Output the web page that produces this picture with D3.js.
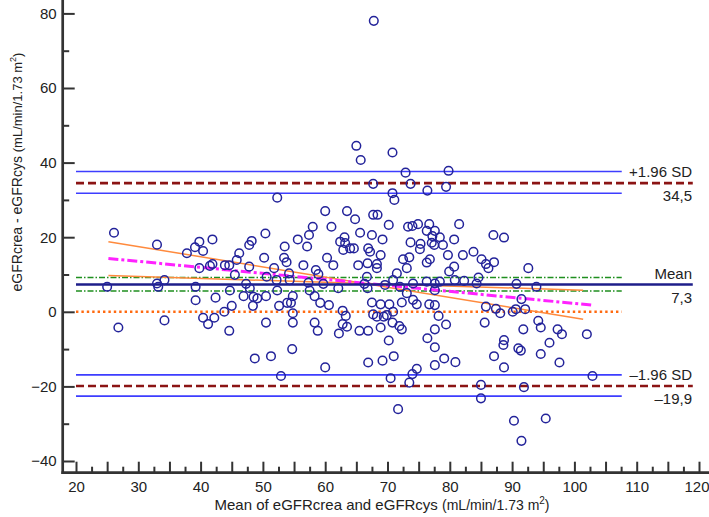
<!DOCTYPE html>
<html><head><meta charset="utf-8">
<script src="https://cdn.jsdelivr.net/npm/d3@7"></script>
<style>
body{margin:0;background:#fff}
svg{display:block;font-family:"Liberation Sans",Arial,sans-serif}
</style>
</head><body>
<svg id="chart" width="709" height="517"></svg>
<script>
// Mean of the two methods (x) and difference (y) for each subject
const meanValues = [
26.1,33.0,37.8,39.1,39.8,40.4,41.9,39.8,41.5,41.9,34.2,25.0,33.0,33.2,39.2,39.2,42.4,26.8,34.2,40.4,41.2,42.2,
65.0,65.7,52.3,60.0,63.5,64.8,61.0,58.0,57.4,50.4,48.2,47.8,55.6,57.1,53.5,62.4,63.1,63.2,62.9,64.0,64.6,46.2,45.8,50.2,53.4,53.8,60.3,61.3,56.5,43.9,44.6,47.8,51.8,65.3,54.2,58.5,58.9,45.5,50.6,66.7,
47.3,47.9,52.2,54.3,57.3,59.7,62.1,66.3,66.8,44.7,52.3,54.8,57.5,58.3,46.9,48.5,49.1,50.5,48.4,45.0,52.6,53.9,54.5,59.2,60.6,43.8,54.8,54.8,50.5,58.3,58.8,44.6,62.8,63.3,62.8,63.5,62.2,65.5,66.9,54.7,48.7,51.3,60.0,66.9,52.9,
70.8,72.9,79.8,67.7,73.7,79.4,76.4,70.8,71.1,67.7,68.4,70.2,73.3,74.0,74.9,76.7,81.5,76.3,77.6,77.2,78.4,80.7,87.0,88.7,65.6,67.5,69.2,73.7,75.3,77.1,77.5,78.9,75.2,66.9,67.2,68.9,79.7,82.1,83.8,85.1,85.8,87.1,86.2,72.5,73.5,76.8,76.3,66.8,68.3,68.3,73.1,80.7,79.9,71.5,92.6,
84.6,69.6,72.0,74.1,77.6,78.4,80.8,82.3,84.3,90.7,70.9,67.5,68.9,70.3,72.3,74.1,74.7,76.7,85.8,87.4,88.1,90.1,90.6,92.1,67.7,68.3,69.4,69.9,70.9,78.2,70.8,71.9,72.3,68.9,79.4,77.6,85.6,91.8,70.2,76.4,77.6,88.7,88.6,91.0,91.4,87.1,69.2,71.0,79.1,80.9,77.6,88.7,74.7,74.0,70.5,73.5,85.0,91.9,85.0,71.7,90.3,91.5,73.1,76.3,77.6,77.6,
93.9,91.5,94.2,94.6,97.3,98.0,102.0,96.0,94.6,97.6,102.9,95.4,67.8
];
const diffValues = [
21.2,18.0,15.7,17.3,18.8,16.3,19.4,11.7,12.3,12.8,8.5,6.7,7.6,6.7,6.7,3.1,3.8,-4.2,-2.3,-1.6,-3.3,-1.6,
44.5,40.7,30.6,27.0,27.0,24.8,22.8,22.8,20.6,21.0,19.0,17.9,19.4,17.5,17.5,18.8,20.0,18.4,16.6,17.0,17.0,15.7,13.9,14.5,14.5,13.3,14.5,12.5,12.5,12.5,12.5,12.1,11.7,12.5,10.3,11.2,10.1,9.9,9.4,9.4,
7.5,6.3,8.5,8.5,7.8,7.5,6.3,7.5,6.3,5.7,5.7,4.2,5.7,4.2,4.2,4.0,3.6,4.2,1.6,1.6,1.6,2.4,2.4,2.4,1.8,0.0,-0.4,-2.9,-2.9,-2.9,-5.1,-5.1,0.3,-1.1,-3.3,-4.0,-5.8,-5.1,-5.1,-10.0,-12.5,-11.9,-14.9,-13.6,-17.2,
42.7,37.3,37.8,34.3,34.3,33.5,32.5,31.8,30.0,26.0,26.0,23.3,22.8,23.0,23.5,23.5,23.5,21.7,21.7,20.3,20.0,19.4,20.6,19.9,21.2,20.6,19.4,18.6,18.2,18.5,17.9,17.9,16.8,17.0,16.1,15.2,15.2,15.2,16.1,14.1,12.8,13.3,11.7,14.1,14.6,14.1,13.2,13.0,12.8,11.7,11.7,12.1,10.8,10.3,11.7,
9.2,7.2,6.7,7.6,7.6,8.1,8.5,8.3,7.6,7.5,8.5,2.5,2.0,2.0,2.5,3.2,2.0,2.0,1.4,0.8,-0.4,0.0,0.7,0.7,-0.7,-1.3,-1.3,-0.9,0.0,-1.1,-2.9,-3.8,-4.7,-4.2,-3.4,-4.7,-2.9,-4.7,-7.7,-7.1,-9.5,-7.6,-8.9,-9.8,-10.4,-11.9,-13.1,-11.9,-12.5,-13.5,-14.3,-14.9,-15.3,-16.7,-17.8,-19.0,-19.6,-20.2,-23.2,-26.1,-29.2,-34.6,5.0,8.1,5.8,1.8,
6.7,3.4,-2.4,-4.2,-4.7,-6.0,-6.0,-8.3,-11.3,-13.6,-17.2,-28.6,78.0
];

const xMajorTicks = [20,25,30,35,40,45,50,55,60,65,70,75,80,85,90,95,100,105,110,115,120];
const xMinorTicks = [22.5,27.5,32.5,37.5,42.5,47.5,52.5,57.5,62.5,67.5,72.5,77.5,82.5,87.5,92.5,97.5,102.5,107.5,112.5,117.5];
const yMajorTicks = [-40,-20,0,20,40,60,80];
const yMinorTicks = [-30,-10,10,30,50,70];

const meanDiff = 7.3, meanCI = [5.6, 9.2];
const upperLoA = 34.5, upperCI = [31.8, 37.6];
const lowerLoA = -19.9, lowerCI = [-22.6, -16.9];
const ciExtent = [20, 107.6];       // x-range of CI / zero lines
const loaExtent = [20, 119];        // x-range of LoA / mean lines
const regressionLine = [[25.2, 14.3], [102.8, 1.8]];
const regressionLimitA = [[25.2, 18.8], [101.4, -2.0]];
const regressionLimitB = [[25.2, 9.7], [101.4, 5.8]];
const rightLabels = [
  {v: upperLoA, above: "+1.96 SD", below: "34,5"},
  {v: meanDiff, above: "Mean", below: "7,3"},
  {v: lowerLoA, above: "\u20131.96 SD", below: "\u201319,9"}
];

const svg = d3.select("#chart");
const x = d3.scaleLinear().domain([20, 120]).range([76, 699]);
const y = d3.scaleLinear().domain([-40, 80]).range([461, 13.4]);
const axisColor = "#333";

function hline(v, ext, color, width, dash) {
  svg.append("line")
    .attr("x1", x(ext[0])).attr("x2", x(ext[1]))
    .attr("y1", y(v)).attr("y2", y(v))
    .attr("stroke", color).attr("stroke-width", width)
    .attr("stroke-dasharray", dash || null);
}
function seg(p, color, width, dash) {
  svg.append("line")
    .attr("x1", x(p[0][0])).attr("y1", y(p[0][1]))
    .attr("x2", x(p[1][0])).attr("y2", y(p[1][1]))
    .attr("stroke", color).attr("stroke-width", width)
    .attr("stroke-dasharray", dash || null);
}

// reference lines
hline(upperCI[1], ciExtent, "#3d3dff", 1.6);
hline(upperCI[0], ciExtent, "#3d3dff", 1.6);
hline(upperLoA, loaExtent, "#8b1414", 2.6, "8,4");
hline(lowerCI[1], ciExtent, "#3d3dff", 1.6);
hline(lowerCI[0], ciExtent, "#3d3dff", 1.6);
hline(lowerLoA, loaExtent, "#8b1414", 2.6, "8,4");
hline(meanCI[1], ciExtent, "#1f8f1f", 1.5, "6,2,1.5,2");
hline(meanCI[0], ciExtent, "#1f8f1f", 1.5, "6,2,1.5,2");
hline(0, ciExtent, "#ff6a10", 2.4, "2.4,3");
seg(regressionLimitA, "#ff8a3d", 1.5);
seg(regressionLimitB, "#ff8a3d", 1.5);
seg(regressionLine, "#ff22ff", 3, "10,3,3,3");
hline(meanDiff, loaExtent, "#1e1e8a", 2.6);

// points
svg.append("g").selectAll("circle")
  .data(meanValues.map((m, i) => [m, diffValues[i]]))
  .join("circle")
  .attr("cx", d => x(d[0])).attr("cy", d => y(d[1]))
  .attr("r", 4.3)
  .attr("fill", "none").attr("stroke", "#23239a").attr("stroke-width", 1.5);

// axes
const gx = svg.append("g").attr("transform", "translate(0,472.7)");
gx.call(d3.axisBottom(x).tickValues(xMajorTicks).tickSize(-11).tickPadding(9)
  .tickFormat(d => d % 10 === 0 ? d : ""));
svg.append("g").attr("transform", "translate(0,472.7)")
  .call(d3.axisBottom(x).tickValues(xMinorTicks).tickSize(-6).tickFormat(""));
const gy = svg.append("g").attr("transform", "translate(62.7,0)");
gy.call(d3.axisLeft(y).tickValues(yMajorTicks).tickSize(-12).tickPadding(6)
  .tickFormat(d => d < 0 ? "\u2212" + Math.abs(d) : d));
svg.append("g").attr("transform", "translate(62.7,0)")
  .call(d3.axisLeft(y).tickValues(yMinorTicks).tickSize(-6.5).tickFormat(""));
svg.selectAll(".domain").remove();
svg.selectAll(".tick line").attr("stroke", axisColor).attr("stroke-width", 2);
svg.selectAll(".tick text").attr("font-size", 15).attr("fill", "#222")
  .attr("font-family", "'Liberation Sans', Arial, sans-serif");
// keep the last x label inside the frame
gx.selectAll(".tick text").filter(d => d === 120).attr("text-anchor", "end").attr("x", 10);

svg.append("line").attr("x1", 62.7).attr("x2", 62.7).attr("y1", 0).attr("y2", 474)
  .attr("stroke", axisColor).attr("stroke-width", 2.7);
svg.append("line").attr("x1", 61.4).attr("x2", 709).attr("y1", 472.7).attr("y2", 472.7)
  .attr("stroke", axisColor).attr("stroke-width", 2.7);

// right side labels
rightLabels.forEach(l => {
  svg.append("text").attr("x", 692).attr("y", y(l.v) - 6).attr("text-anchor", "end")
    .attr("font-size", 15).attr("fill", "#222").text(l.above);
  svg.append("text").attr("x", 692).attr("y", y(l.v) + 18).attr("text-anchor", "end")
    .attr("font-size", 15).attr("fill", "#222").text(l.below);
});

// axis titles
const xt = svg.append("text").attr("x", 382).attr("y", 510).attr("text-anchor", "middle")
  .attr("font-size", 15).attr("fill", "#222");
xt.append("tspan").text("Mean of eGFRcrea and eGFRcys ");
xt.append("tspan").attr("font-size", 14).text("(mL/min/1.73 m");
xt.append("tspan").attr("font-size", 10).attr("dy", -6).text("2");
xt.append("tspan").attr("font-size", 14).attr("dy", 6).text(")");

const yt = svg.append("text").attr("transform", "translate(22,172) rotate(-90)")
  .attr("text-anchor", "middle").attr("font-size", 14).attr("fill", "#222");
yt.append("tspan").text("eGFRcrea - eGFRcys ");
yt.append("tspan").attr("font-size", 13).text("(mL/min/1.73 m");
yt.append("tspan").attr("font-size", 9).attr("dy", -6).text("2");
yt.append("tspan").attr("font-size", 13).attr("dy", 6).text(")");
</script>
</body></html>
